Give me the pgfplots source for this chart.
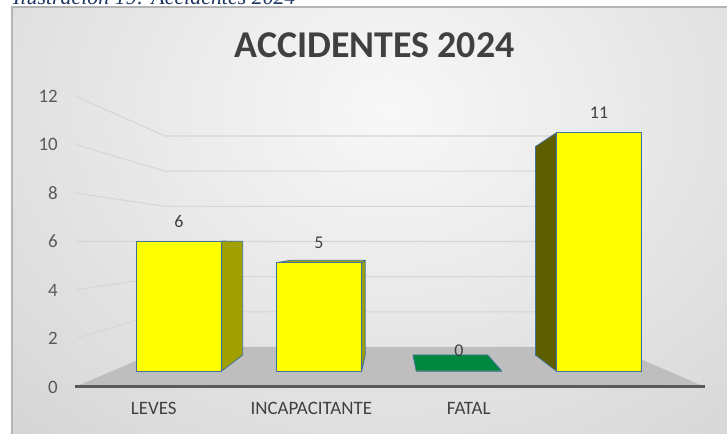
\documentclass[border=0pt]{standalone}
\usepackage{pgfplots}
\pgfplotsset{compat=1.18}
\usepackage{pgfplotstable}
\usepackage{fontspec}
\setmainfont{Carlito}
\newfontfamily\leyenda{Liberation Serif}

\pgfplotsset{/pgf/number format/assume math mode=true}

\definecolor{texto}{RGB}{64,64,64}
\definecolor{ejes}{RGB}{89,89,89}
\definecolor{amarillo}{RGB}{255,255,0}
\definecolor{oliva}{RGB}{160,160,0}
\definecolor{olivaosc}{RGB}{94,94,0}
\definecolor{verde}{RGB}{0,135,62}
\definecolor{borde}{RGB}{65,113,156}
\definecolor{piso}{RGB}{190,190,190}
\definecolor{rejilla}{RGB}{214,214,214}
\definecolor{azulleyenda}{RGB}{31,56,100}
\definecolor{fondoint}{RGB}{248,248,248}
\definecolor{fondoext}{RGB}{186,186,186}
\definecolor{marco}{RGB}{180,180,180}

\pgfplotstableread{
x n
0 6
1 5
2 0
3 11
}\datos

% punto de fuga (unidades del eje de barras), profundidad, media anchura
\def\vx{1.5036}\def\vy{5.912}\def\td{0.125}\def\hw{0.3054}

\newcommand\caraDer[3]{%
  \filldraw[fill=#3, draw=borde, line width=0.8bp, line join=round]
    (axis cs:{#1+\hw},0) -- (axis cs:{#1+\hw},#2)
    -- (axis cs:{#1+\hw+\td*(\vx-#1-\hw)},{#2+\td*(\vy-#2)})
    -- (axis cs:{#1+\hw+\td*(\vx-#1-\hw)},{\td*\vy}) -- cycle;}
\newcommand\caraIzq[3]{%
  \filldraw[fill=#3, draw=borde, line width=0.8bp, line join=round]
    (axis cs:{#1-\hw},0) -- (axis cs:{#1-\hw},#2)
    -- (axis cs:{#1-\hw+\td*(\vx-#1+\hw)},{#2+\td*(\vy-#2)})
    -- (axis cs:{#1-\hw+\td*(\vx-#1+\hw)},{\td*\vy}) -- cycle;}
\newcommand\caraSup[3]{%
  \filldraw[fill=#3, draw=borde, line width=0.8bp, line join=round]
    (axis cs:{#1-\hw},#2) -- (axis cs:{#1+\hw},#2)
    -- (axis cs:{#1+\hw+\td*(\vx-#1-\hw)},{#2+\td*(\vy-#2)})
    -- (axis cs:{#1-\hw+\td*(\vx-#1+\hw)},{#2+\td*(\vy-#2)}) -- cycle;}

\begin{document}
\begin{tikzpicture}
\useasboundingbox (0,0) rectangle (727bp,434bp);
\clip (0,0) rectangle (727bp,434bp);

% fondo, titulo, pared y piso (coordenadas en pixeles, y hacia abajo)
\begin{scope}[x=1bp,y=-1bp,shift={(0bp,434bp)}]
  \fill[white] (0,0) rectangle (727,434);
  \begin{scope}
    \clip (12,7) rectangle (727,434);
    \fill[fondoext] (12,7) rectangle (727,434);
    \shade[inner color=fondoint, outer color=fondoext] (390,110) ellipse (1000 and 800);
  \end{scope}
  \draw[line width=1.2bp, marco] (12,434) -- (12,7) -- (727,7);
  \node[anchor=base west, inner sep=0pt, text=azulleyenda,
        font=\leyenda\itshape\fontsize{22}{26}\selectfont] at (13,4.5)
        {Ilustración 19: Accidentes 2024};
  \node[inner sep=0pt, text=texto, font=\bfseries\fontsize{38}{44}\selectfont]
        at (374.5,45) {ACCIDENTES 2024};
  \foreach \v in {2,4,...,12}
    \draw[rejilla, line width=1.1bp]
      (75,{387-24.25*\v}) -- (165,{347-17.58*\v}) -- (613,{347-17.58*\v});
  \fill[piso] (75,387) -- (705,387) -- (613,347) -- (168,347) -- cycle;
  \draw[ejes, line width=2.2bp] (75,386.5) -- (705,386.5);
\end{scope}

% eje frontal: marcas y categorias
\begin{axis}[
  at={(75bp,47bp)}, anchor=south west, scale only axis,
  width=630bp, height=291bp,
  xmin=0, xmax=4, ymin=0, ymax=12,
  ytick={0,2,...,12},
  xtick={0.5,1.5,2.5,3.5},
  xticklabels={LEVES,INCAPACITANTE,FATAL,{}},
  axis line style={draw=none}, tick style={draw=none},
  yticklabel style={anchor=east, inner sep=0pt, xshift=-17bp, text=ejes,
                    font=\fontsize{19}{22}\selectfont},
  xticklabel style={anchor=north, inner sep=0pt, yshift=-15bp, text=texto,
                    font=\fontsize{19}{22}\selectfont},
]
\end{axis}

% barras (plano frontal)
\begin{axis}[
  at={(109bp,63bp)}, anchor=south west, scale only axis,
  width=560bp, height=259.8bp,
  xmin=-0.5, xmax=3.5, ymin=0, ymax=12,
  hide axis, clip=false,
  ybar, bar width=0.6107, bar shift=0pt,
  nodes near coords,
  every node near coord/.append style={inner sep=0pt, yshift=13.5bp, text=texto,
                                       font=\fontsize{18}{21}\selectfont},
]
\caraDer{0}{6}{oliva}
\caraDer{1}{5}{oliva}
\caraSup{1}{5}{oliva}
\caraSup{2}{0}{verde}
\caraIzq{3}{11}{olivaosc}
\addplot[fill=amarillo, draw=borde, line width=0.8bp] table[x=x,y=n] {\datos};
\end{axis}
\end{tikzpicture}
\end{document}
